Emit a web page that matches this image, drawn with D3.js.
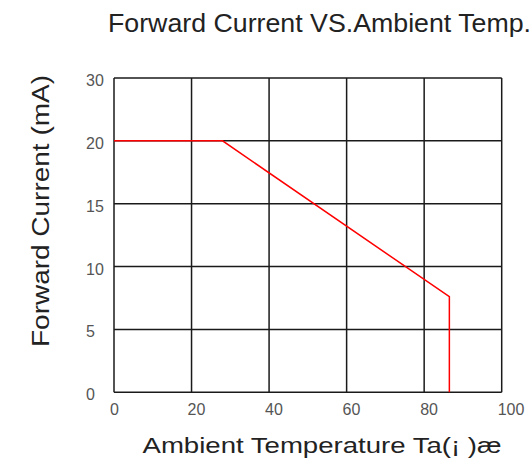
<!DOCTYPE html>
<html>
<head>
<meta charset="utf-8">
<script src="https://cdn.jsdelivr.net/npm/d3@7"></script>
<style>
  body { margin: 0; background: #fff; }
  text { font-family: 'Liberation Sans', Arial, sans-serif; }
</style>
</head>
<body>
<svg width="532" height="463"></svg>
<script>
// tick values and labels (top label reads 30 although spacing is equal)
const xTicks = [0, 20, 40, 60, 80, 100];
const yTicks = [0, 5, 10, 15, 20, 25];
const yTickLabels = ['0', '5', '10', '15', '20', '30'];

// derating curve
const tempValues = [0, 28, 86.5, 86.5];
const currentValues = [20, 20, 7.6, 0];

const svg = d3.select('svg');
const plotLeft = 114, plotRight = 501.7, plotTop = 78, plotBottom = 392.3;

const x = d3.scaleLinear().domain([0, 100]).range([plotLeft, plotRight]);
const y = d3.scaleLinear().domain([0, 25]).range([plotBottom, plotTop]);

const g = svg.append('g');

// grid
g.selectAll('line.vgrid')
  .data(xTicks)
  .join('line')
  .attr('class', 'vgrid')
  .attr('x1', d => x(d))
  .attr('x2', d => x(d))
  .attr('y1', plotTop)
  .attr('y2', plotBottom)
  .attr('stroke', '#1a1a1a')
  .attr('stroke-width', 1.5);

g.selectAll('line.hgrid')
  .data(yTicks)
  .join('line')
  .attr('class', 'hgrid')
  .attr('x1', plotLeft)
  .attr('x2', plotRight)
  .attr('y1', d => y(d))
  .attr('y2', d => y(d))
  .attr('stroke', '#1a1a1a')
  .attr('stroke-width', 1.5);

// tick labels
g.selectAll('text.xtick')
  .data(xTicks)
  .join('text')
  .attr('class', 'xtick')
  .attr('x', d => x(d) - 4)
  .attr('y', plotBottom + 23)
  .style('font-size', '16px')
  .attr('fill', '#555')
  .text(d => d);

g.selectAll('text.ytick')
  .data(yTicks)
  .join('text')
  .attr('class', 'ytick')
  .attr('x', 86)
  .attr('y', d => y(d) + 8)
  .style('font-size', '16px')
  .attr('fill', '#555')
  .text((d, i) => yTickLabels[i]);

// curve
const pts = tempValues.map((t, i) => [t, currentValues[i]]);
g.append('path')
  .datum(pts)
  .attr('d', d3.line().x(d => x(d[0])).y(d => y(d[1])))
  .attr('fill', 'none')
  .attr('stroke', '#ff0000')
  .attr('stroke-width', 1.5);

// titles
svg.append('text')
  .attr('x', 108)
  .attr('y', 32)
  .attr('textLength', 423)
  .attr('lengthAdjust', 'spacingAndGlyphs')
  .style('font-size', '25px')
  .attr('fill', '#222')
  .text('Forward Current VS.Ambient Temp.');

svg.append('text')
  .attr('x', 142.5)
  .attr('y', 453)
  .attr('textLength', 359)
  .attr('lengthAdjust', 'spacingAndGlyphs')
  .style('font-size', '22px')
  .attr('fill', '#222')
  .text('Ambient Temperature Ta(¡ )æ');

svg.append('text')
  .attr('transform', 'translate(49,347) rotate(-90)')
  .attr('textLength', 272)
  .attr('lengthAdjust', 'spacingAndGlyphs')
  .style('font-size', '23px')
  .attr('fill', '#222')
  .text('Forward Current (mA)');
</script>
</body>
</html>
